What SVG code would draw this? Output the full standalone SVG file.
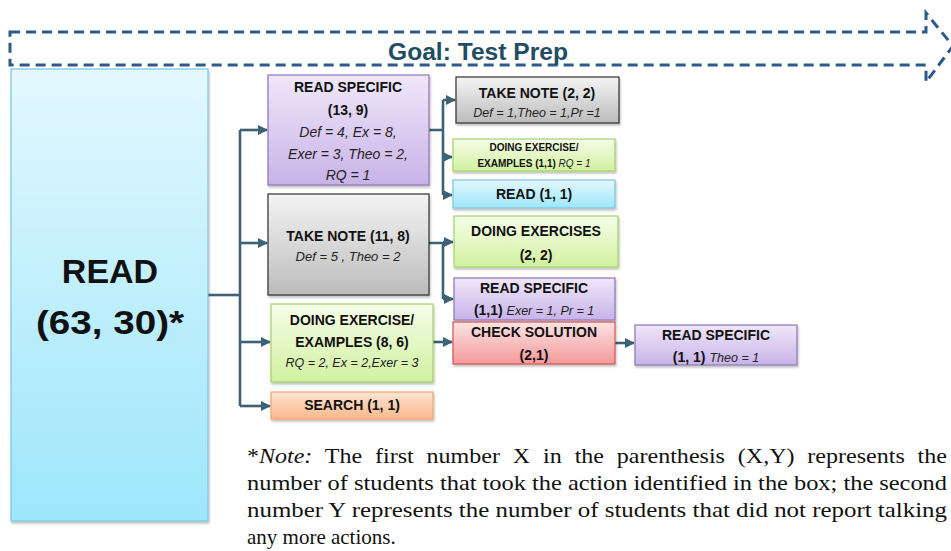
<svg xmlns="http://www.w3.org/2000/svg" width="951" height="551" viewBox="0 0 951 551">
<defs>
<linearGradient id="gBlue" x1="0" y1="0" x2="0" y2="1"><stop offset="0" stop-color="#e3f8fe"/><stop offset="1" stop-color="#9de6fb"/></linearGradient>
<linearGradient id="gPurple" x1="0" y1="0" x2="0" y2="1"><stop offset="0" stop-color="#efe7f9"/><stop offset="1" stop-color="#c8b3e8"/></linearGradient>
<linearGradient id="gGrey" x1="0" y1="0" x2="0" y2="1"><stop offset="0" stop-color="#f4f4f4"/><stop offset="1" stop-color="#bcbcbc"/></linearGradient>
<linearGradient id="gGreen" x1="0" y1="0" x2="0" y2="1"><stop offset="0" stop-color="#f6fde9"/><stop offset="1" stop-color="#d2f1a0"/></linearGradient>
<linearGradient id="gOrange" x1="0" y1="0" x2="0" y2="1"><stop offset="0" stop-color="#fee6d4"/><stop offset="1" stop-color="#f9b78a"/></linearGradient>
<linearGradient id="gRed" x1="0" y1="0" x2="0" y2="1"><stop offset="0" stop-color="#fde3e3"/><stop offset="1" stop-color="#f4999a"/></linearGradient>
<filter id="sh" x="-5%" y="-5%" width="115%" height="120%"><feDropShadow dx="1" dy="2" stdDeviation="1.2" flood-color="#000" flood-opacity="0.25"/></filter>
<marker id="ah" viewBox="0 0 10 10" refX="9" refY="5" markerWidth="4" markerHeight="4" orient="auto"><path d="M0,0 L10,5 L0,10 z" fill="#3d6275"/></marker>
</defs>
<style>
.goal{fill:none;stroke:#2c5a8a;stroke-width:3;stroke-dasharray:10,6}
.c{fill:none;stroke:#3d6275;stroke-width:2.6}
.a{marker-end:url(#ah)}
.b{font-family:"Liberation Sans",Arial,sans-serif;font-weight:bold;fill:#111;text-anchor:middle}
.i{font-family:"Liberation Sans",Arial,sans-serif;font-style:italic;fill:#222;text-anchor:middle}
.blue{fill:url(#gBlue);stroke:#7cc5dc;stroke-width:1.2;filter:url(#sh)}
.purple{fill:url(#gPurple);stroke:#8c75b8;stroke-width:1.2;filter:url(#sh)}
.grey{fill:url(#gGrey);stroke:#2f2f2f;stroke-width:1.2;filter:url(#sh)}
.green{fill:url(#gGreen);stroke:#a2d267;stroke-width:1.2;filter:url(#sh)}
.orange{fill:url(#gOrange);stroke:#f2a36c;stroke-width:1.2;filter:url(#sh)}
.red{fill:url(#gRed);stroke:#d9534f;stroke-width:1.2;filter:url(#sh)}
.note{font-family:"Liberation Serif","Times New Roman",serif;font-size:21px;fill:#111}
</style>

<g id="goal">
<path class="goal" d="M10,32 H926 V13 L953,46 L926,82 V65 H10 Z"/>
<text x="478" y="60" font-family="'Liberation Sans',Arial,sans-serif" font-weight="bold" font-size="23" fill="#1f4e62" text-anchor="middle" textLength="180" lengthAdjust="spacingAndGlyphs">Goal: Test Prep</text>
</g>

<g id="connectors">
<path class="c" d="M208,295 H240"/>
<path class="c" d="M240,130 V406"/>
<path class="c a" d="M240,130 H267"/>
<path class="c a" d="M240,243 H267"/>
<path class="c a" d="M240,342 H270"/>
<path class="c a" d="M240,406 H270"/>
<path class="c" d="M429,130 H443 M443,100 V195"/>
<path class="c a" d="M443,100 H455"/>
<path class="c a" d="M443,157 H452"/>
<path class="c a" d="M443,195 H452"/>
<path class="c" d="M429,243 H443 V299"/>
<path class="c a" d="M443,242 H453"/>
<path class="c a" d="M443,299 H453"/>
<path class="c a" d="M433,342 H452"/>
<path class="c a" d="M615,343 H634"/>
</g>

<g id="n-read">
<rect class="blue" x="11" y="69" width="197" height="452"/>
<text class="b" x="110" y="283" font-size="34">READ</text>
<text class="b" x="110" y="334" font-size="34" textLength="148" lengthAdjust="spacingAndGlyphs">(63, 30)*</text>
</g>

<g id="n-readspecific-13-9">
<rect class="purple" x="268" y="75" width="161" height="110"/>
<text class="b" x="348" y="92" font-size="14">READ SPECIFIC</text>
<text class="b" x="348" y="115" font-size="14">(13, 9)</text>
<text class="i" x="348" y="137" font-size="14">Def = 4, Ex = 8,</text>
<text class="i" x="348" y="159" font-size="14">Exer = 3, Theo = 2,</text>
<text class="i" x="348" y="180" font-size="14">RQ = 1</text>
</g>

<g id="n-takenote-11-8">
<rect class="grey" x="268" y="194" width="161" height="101"/>
<text class="b" x="348" y="241" font-size="14">TAKE NOTE (11, 8)</text>
<text class="i" x="348" y="261" font-size="13">Def = 5 , Theo = 2</text>
</g>

<g id="n-doing-8-6">
<rect class="green" x="271" y="304" width="162" height="78"/>
<text class="b" x="352" y="325" font-size="14">DOING EXERCISE/</text>
<text class="b" x="352" y="347" font-size="14">EXAMPLES (8, 6)</text>
<text class="i" x="352" y="367" font-size="12.5">RQ = 2, Ex = 2,Exer = 3</text>
</g>

<g id="n-search">
<rect class="orange" x="271" y="392" width="162" height="27"/>
<text class="b" x="352" y="410" font-size="14">SEARCH (1, 1)</text>
</g>

<g id="n-takenote-2-2">
<rect class="grey" x="456" y="77" width="163" height="46"/>
<text class="b" x="537" y="98" font-size="14">TAKE NOTE (2, 2)</text>
<text class="i" x="537" y="117" font-size="12.5">Def = 1,Theo = 1,Pr =1</text>
</g>

<g id="n-doing-1-1">
<rect class="green" x="453" y="139" width="162" height="32"/>
<text class="b" x="534" y="151" font-size="10">DOING EXERCISE/</text>
<text x="534" y="167" font-size="10" text-anchor="middle" font-family="'Liberation Sans',Arial,sans-serif"><tspan font-weight="bold" fill="#111">EXAMPLES (1,1) </tspan><tspan font-style="italic" fill="#222">RQ = 1</tspan></text>
</g>

<g id="n-read-1-1">
<rect class="blue" x="453" y="180" width="162" height="28"/>
<text class="b" x="534" y="199" font-size="14">READ (1, 1)</text>
</g>

<g id="n-doingexercises-2-2">
<rect class="green" x="454" y="216" width="164" height="51"/>
<text class="b" x="536" y="236" font-size="14">DOING EXERCISES</text>
<text class="b" x="536" y="260" font-size="14">(2, 2)</text>
</g>

<g id="n-readspecific-1-1a">
<rect class="purple" x="454" y="278" width="161" height="42"/>
<text class="b" x="534" y="293" font-size="14">READ SPECIFIC</text>
<text x="534" y="315" text-anchor="middle" font-family="'Liberation Sans',Arial,sans-serif"><tspan font-weight="bold" font-size="14" fill="#111">(1,1) </tspan><tspan font-style="italic" font-size="12.5" fill="#222">Exer = 1, Pr = 1</tspan></text>
</g>

<g id="n-checksolution">
<rect class="red" x="453" y="322" width="162" height="42"/>
<text class="b" x="534" y="337" font-size="14">CHECK SOLUTION</text>
<text class="b" x="534" y="360" font-size="14">(2,1)</text>
</g>

<g id="n-readspecific-1-1b">
<rect class="purple" x="635" y="325" width="162" height="40"/>
<text class="b" x="716" y="340" font-size="14">READ SPECIFIC</text>
<text x="716" y="362" text-anchor="middle" font-family="'Liberation Sans',Arial,sans-serif"><tspan font-weight="bold" font-size="14" fill="#111">(1, 1) </tspan><tspan font-style="italic" font-size="12.5" fill="#222">Theo = 1</tspan></text>
</g>

<g id="note">
<text class="note" x="247" y="463" textLength="700" lengthAdjust="spacingAndGlyphs" word-spacing="6">*<tspan font-style="italic">Note:</tspan> The first number X in the parenthesis (X,Y) represents the</text>
<text class="note" x="247" y="490" textLength="700" lengthAdjust="spacingAndGlyphs">number of students that took the action identified in the box; the second</text>
<text class="note" x="247" y="517" textLength="700" lengthAdjust="spacingAndGlyphs">number Y represents the number of students that did not report talking</text>
<text class="note" x="247" y="544">any more actions.</text>
</g>
</svg>
